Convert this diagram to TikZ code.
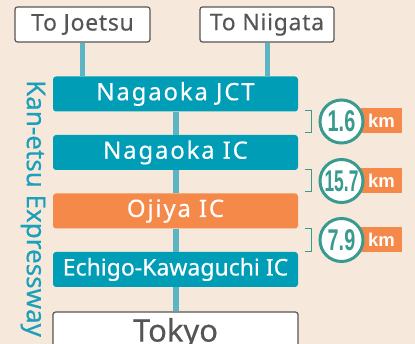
\documentclass[tikz,border=0pt]{standalone}
\usepackage{fontspec}
\setmainfont{Noto Sans}[FakeBold=0.35]
\newfontfamily\icfont{Noto Sans}[LetterSpace=7.5,FakeBold=0.35]
\newfontfamily\topfont{Noto Sans}[LetterSpace=3,FakeBold=0.3]
\newfontfamily\boldnum{Liberation Sans Bold}
\definecolor{bgc}{HTML}{F7E8DC}
\definecolor{tealbox}{HTML}{009DB6}
\definecolor{orangebox}{HTML}{F5894A}
\definecolor{linec}{HTML}{5DB4C4}
\definecolor{circc}{HTML}{3A9A8E}
\definecolor{grayt}{HTML}{555555}
\definecolor{vtext}{HTML}{1AA0BA}
\tikzset{
  toplabel/.style={draw=grayt, line width=1.2pt, fill=white, rounded corners=2.5pt, text=grayt, minimum height=35pt, inner sep=0pt, font=\topfont\fontsize{23}{23}\selectfont},
  icbox/.style={fill=tealbox, rounded corners=3pt, text=white, minimum width=245pt, minimum height=35pt, inner sep=0pt, font=\icfont\fontsize{24}{24}\selectfont},
  road/.style={draw=linec, line width=6pt},
  bracketline/.style={draw=circc, line width=0.8pt},
  distcirc/.style={circle, draw=circc, line width=3pt, fill=white, minimum size=43pt, inner sep=0pt, text=circc, font=\boldnum\fontsize{30}{30}\selectfont},
  kmbox/.style={fill=orangebox, minimum width=41pt, minimum height=25pt, inner sep=0pt, text=white, font=\boldnum\fontsize{18.5}{18.5}\selectfont}
}
\begin{document}
\begin{tikzpicture}[x=1pt,y=-1pt]
\useasboundingbox (0,0) rectangle (415,344);
\fill[bgc] (0,0) rectangle (415,344);
\clip (0,0) rectangle (415,344);
% top destinations
\node[toplabel, minimum width=135pt] (joetsu) at (82.5,24.5) {To Joetsu};
\node[toplabel, minimum width=134pt] (niigata) at (267,24.5) {To Niigata};
% interchanges
\node[icbox] (jct) at (175.5,94) {Nagaoka JCT};
\node[icbox] (nic) at (175.5,152.5) {Nagaoka IC};
\node[icbox, fill=orangebox] (ojiya) at (175.5,211) {Ojiya IC};
\node[icbox, font=\fontsize{23}{23}\selectfont] (echigo) at (175.5,269.5) {Echigo-Kawaguchi IC};
\node[toplabel, anchor=north, minimum width=245pt, minimum height=44pt, font=\fontsize{31}{31}\selectfont, text height=15pt, text depth=0pt] (tokyo) at (175.5,311.5) {Tokyo};
% roads
\draw[road, line width=5pt] (joetsu.south) -- (joetsu.south |- jct.north);
\draw[road, line width=5pt] (niigata.south) -- (niigata.south |- jct.north);
\draw[road] (jct.south) -- (nic.north);
\draw[road] (nic.south) -- (ojiya.north);
\draw[road] (ojiya.south) -- (echigo.north);
\draw[road] (echigo.south) -- ([yshift=0.6pt]tokyo.north);
% expressway name
\node[rotate=-90, text=vtext, font=\fontsize{26}{26}\selectfont, inner sep=0pt] (kanetsu) at (33,208.5) {Kan-etsu Expressway};
% distances
\draw[bracketline] (305,110.5) -- (311,110.5) -- (311,132.5) -- (305,132.5);
\draw[bracketline] (305,169.5) -- (311,169.5) -- (311,191.5) -- (305,191.5);
\draw[bracketline] (305,228.5) -- (311,228.5) -- (311,251.5) -- (305,251.5);
\node[kmbox] (km1) at (381.5,121) {km};
\node[kmbox] (km2) at (381.5,180.5) {km};
\node[kmbox] (km3) at (381.5,239.5) {km};
\node[distcirc] (d1) at (341.5,121.5) {\scalebox{0.66}[1]{1.6}};
\node[distcirc] (d2) at (341.5,181) {\scalebox{0.58}[1]{15.7}};
\node[distcirc] (d3) at (341.5,240) {\scalebox{0.66}[1]{7.9}};
\end{tikzpicture}
\end{document}
